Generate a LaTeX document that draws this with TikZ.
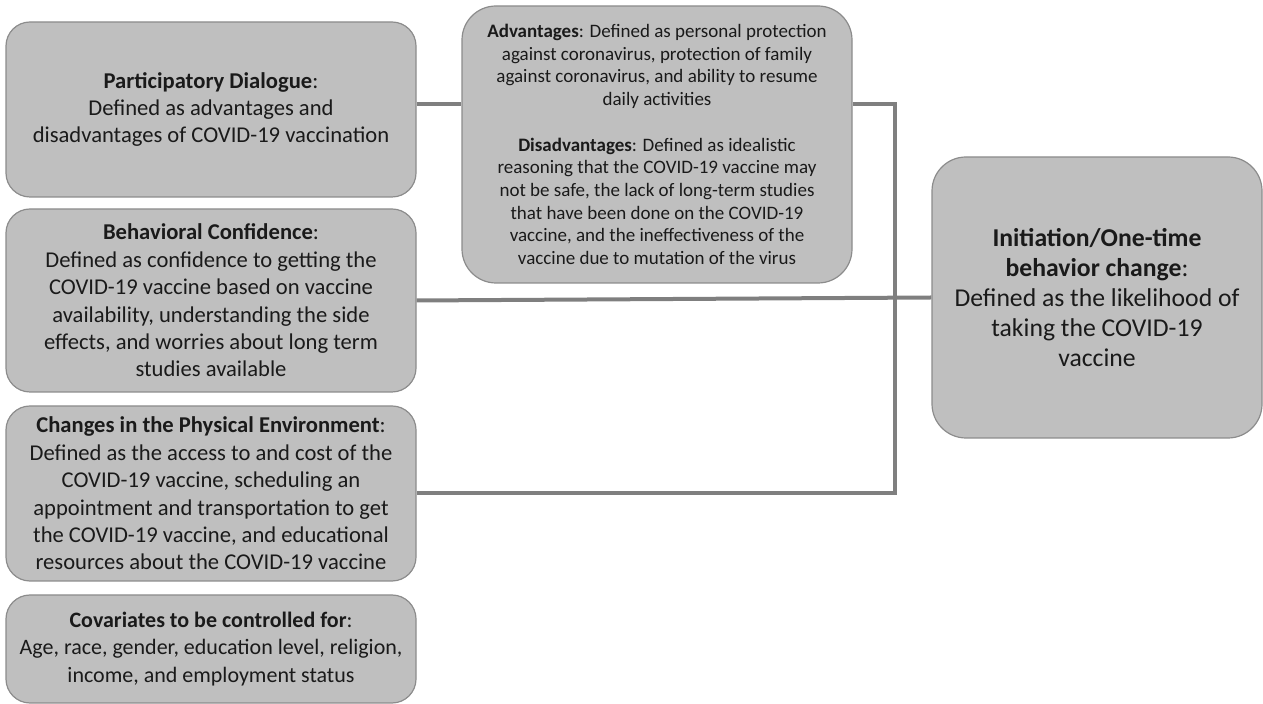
\documentclass[tikz,border=0pt]{standalone}
\usepackage{fontspec}
\setmainfont{Carlito}
\usetikzlibrary{calc}
\definecolor{boxfill}{HTML}{BFBFBF}
\definecolor{boxline}{HTML}{8C8C8C}
\definecolor{linkgray}{HTML}{7F7F7F}
\definecolor{ink}{HTML}{1A1A1A}
\begin{document}
\begin{tikzpicture}[x=0.5pt, y=-0.5pt,
    box/.style={draw=boxline, line width=0.6pt, fill=boxfill, rounded corners=12pt,
        align=center, text=ink, inner sep=0pt, font=\fontsize{11.3}{13.7}\selectfont},
    link/.style={draw=linkgray, line width=2pt}]
        \useasboundingbox (0,0) rectangle (1263,704);
        % left column
        \node [box, minimum width=205pt, minimum height=87.5pt] (dlg) at (211,109.5)
            {\textbf{Participatory Dialogue}:\\Defined as advantages and\\disadvantages of COVID-19 vaccination};
        \node [box, minimum width=205pt, minimum height=91.5pt] (conf) at (211,300.5)
            {\textbf{Behavioral Confidence}:\\Defined as confidence to getting the\\COVID-19 vaccine based on vaccine\\availability, understanding the side\\effects, and worries about long term\\studies available};
        \node [box, minimum width=205pt, minimum height=87.5pt] (env) at (211,493.5)
            {\textbf{Changes in the Physical Environment}:\\Defined as the access to and cost of the\\COVID-19 vaccine, scheduling an\\appointment and transportation to get\\the COVID-19 vaccine, and educational\\resources about the COVID-19 vaccine};
        \node [box, minimum width=205pt, minimum height=54pt,
            font=\fontsize{11}{13.7}\selectfont] (cov) at (211,649)
            {\textbf{Covariates to be controlled for}:\\Age, race, gender, education level, religion,\\income, and employment status};
        % middle and right
        \node [box, rounded corners=17pt, minimum width=195pt, minimum height=138.5pt,
            font=\fontsize{9.5}{11.35}\selectfont] (adv) at (657,144.5)
            {\textbf{Advantages}: Defined as personal protection\\against coronavirus, protection of family\\against coronavirus, and ability to resume\\daily activities\\[11.35pt]\textbf{Disadvantages}: Defined as idealistic\\reasoning that the COVID-19 vaccine may\\not be safe, the lack of long-term studies\\that have been done on the COVID-19\\vaccine, and the ineffectiveness of the\\vaccine due to mutation of the virus};
        \node [box, rounded corners=17pt, minimum width=165pt, minimum height=140.5pt,
            font=\fontsize{12.85}{15}\selectfont] (init) at (1097,297.5)
            {\textbf{Initiation/One-time}\\\textbf{behavior change}:\\Defined as the likelihood of\\taking the COVID-19\\vaccine};
        % connectors
        \coordinate (jt) at (895,104);
        \draw [link] ([yshift=2.5pt]dlg.east) -- ([yshift=2.5pt]dlg.east -| adv.west);
        \draw [link] (adv.east |- jt) -- (jt) -- (jt |- env.east) -- (env.east);
        \draw [link] (conf.east) -- (init.west);
    \end{tikzpicture}
\end{document}
